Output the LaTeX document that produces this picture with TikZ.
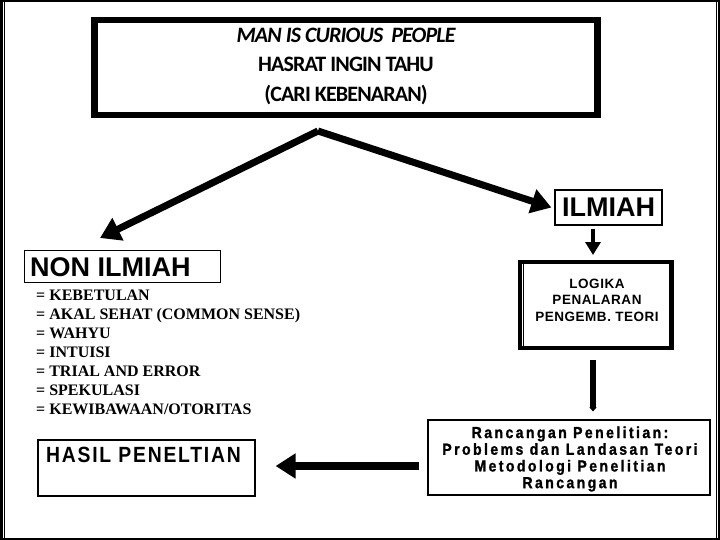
\documentclass[tikz,border=0pt]{standalone}
\usepackage{fontspec}
\setmainfont{Liberation Serif}
\newfontfamily\headfont[LetterSpace=-4]{Carlito}
\newfontfamily\arialfont{Liberation Sans}
\newfontfamily\logikafont[LetterSpace=4]{Liberation Sans}
\newfontfamily\narrowfont[FakeStretch=0.88,LetterSpace=15,FakeBold=1.2]{Liberation Sans}
\newfontfamily\hasilfont[FakeStretch=0.88,LetterSpace=8]{Liberation Sans}
\usetikzlibrary{arrows.meta}
\begin{document}
\begin{tikzpicture}[x=1pt,y=-1pt,
  box/.style={draw,line width=1.2pt,inner sep=0pt},
  bigarrow/.style={line width=7pt,-{Triangle[length=20pt,width=24pt]}},
  midarrow/.style={line width=4.5pt,-{Triangle[length=13pt,width=15pt]}},
  thinarrow/.style={line width=5.5pt,-{Triangle[length=4pt,width=7pt]}}]
\useasboundingbox (0,0) rectangle (720,540);
\fill[white] (0,0) rectangle (720,540);
% frame
\draw[line width=2.5pt] (1.25,1.25) rectangle (718.75,538.75);
\draw[line width=0.8pt] (4,2) -- (4,538);
\draw[line width=0.8pt] (716,2) -- (716,538);
% top box
\node[draw,line width=6.5pt,minimum width=503,minimum height=95,inner sep=0pt] (top) at (346,67.5) {};
\node[font=\headfont\bfseries\fontsize{22}{29.5}\selectfont,align=center] (toptext) at (346,66)
  {\itshape MAN IS CURIOUS\ \ PEOPLE\\HASRAT INGIN TAHU\\(CARI KEBENARAN)};
% ILMIAH
\node[box,minimum width=107,minimum height=35,font=\arialfont\bfseries\fontsize{27}{30}\selectfont] (ilmiah) at (608.5,207.5) {ILMIAH};
% NON ILMIAH
\node[box,minimum width=196,minimum height=32,anchor=north west] (nonil) at (24,250) {};
\node[anchor=west,inner sep=0pt,font=\arialfont\bfseries\fontsize{27}{30}\selectfont] (noniltext) at (30,267) {NON ILMIAH};
% list
\node[anchor=north west,inner sep=0pt,align=left,font=\bfseries\fontsize{16}{19}\selectfont] (list) at (36,290)
 {= KEBETULAN\\= AKAL SEHAT (COMMON SENSE)\\= WAHYU\\= INTUISI\\= TRIAL AND ERROR\\= SPEKULASI\\= KEWIBAWAAN/OTORITAS};
% LOGIKA
\node[draw,line width=4pt,minimum width=152,minimum height=86,inner sep=0pt] (logika) at (596,305) {};
\draw[line width=0.8pt] ([shift={(5,3)}]logika.north west) rectangle ([shift={(-5,-3)}]logika.south east);
\node[align=center,inner sep=0pt,font=\logikafont\bfseries\fontsize{13.5}{16.5}\selectfont] (logikatext) at (597,300)
  {LOGIKA\\PENALARAN\\PENGEMB. TEORI};
% Rancangan
\node[box,minimum width=282,minimum height=75] (ranc) at (569,457.5) {};
\node[align=center,inner sep=0pt,font=\narrowfont\bfseries\fontsize{16}{16.7}\selectfont] (ranctext) at (570,459)
  {Rancangan Penelitian:\\Problems dan Landasan Teori\\Metodologi Penelitian\\Rancangan};
% HASIL
\node[box,minimum width=217,minimum height=56] (hasil) at (146.5,468) {};
\node[anchor=west,inner sep=0pt,font=\hasilfont\bfseries\fontsize{22}{24}\selectfont] (hasiltext) at (46,455) {HASIL PENELTIAN};
% arrows
\coordinate (apex) at (318,131);
\coordinate (ltip) at (100,238);
\coordinate (vx) at (593,0);
\coordinate (hy) at (0,466);
\draw[bigarrow] (apex) -- (ltip);
\draw[bigarrow] (apex) -- ([xshift=-3pt]ilmiah.west);
\draw[midarrow] ([yshift=-3pt]ilmiah.south -| vx) -- ([yshift=5pt]logika.north -| vx);
\draw[thinarrow] ([yshift=-10pt]logika.south -| vx) -- ([yshift=8pt]ranc.north -| vx);
\draw[bigarrow,line width=8pt] ([xshift=-8pt]ranc.west |- hy) -- ([xshift=20pt]hasil.east |- hy);
\end{tikzpicture}
\end{document}
